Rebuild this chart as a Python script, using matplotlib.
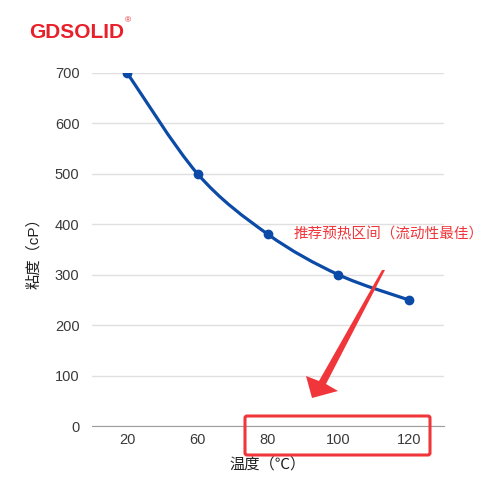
import matplotlib.pyplot as plt
from matplotlib.path import Path
from matplotlib.patches import PathPatch, Polygon, FancyBboxPatch

plt.rcParams['font.family'] = ['Liberation Sans', 'Noto Sans CJK SC', 'DejaVu Sans']

temps = ['20', '60', '80', '100', '120']
viscosity = [700, 500, 380, 300, 250]
y_ticks = [0, 100, 200, 300, 400, 500, 600, 700]

blue = '#0b4aa6'
red = '#f0363a'

fig = plt.figure(figsize=(5, 5), dpi=100)
ax = fig.add_axes([0.184, 0.148, 0.704, 0.706])

x = list(range(len(temps)))

# smooth curve through the points (catmull-rom style bezier)
verts = [(x[0], viscosity[0])]
codes = [Path.MOVETO]
k = 1 / 6
for i in range(len(x) - 1):
    x0, y0 = (x[i - 1], viscosity[i - 1]) if i > 0 else (x[i], viscosity[i])
    x1, y1 = x[i], viscosity[i]
    x2, y2 = x[i + 1], viscosity[i + 1]
    x3, y3 = (x[i + 2], viscosity[i + 2]) if i + 2 < len(x) else (x2, y2)
    verts += [(x1 + (x2 - x0) * k, y1 + (y2 - y0) * k),
              (x2 - (x3 - x1) * k, y2 - (y3 - y1) * k),
              (x2, y2)]
    codes += [Path.CURVE4] * 3
ax.add_patch(PathPatch(Path(verts, codes), facecolor='none', edgecolor=blue,
                       lw=2.3, zorder=3, capstyle='round'))
ax.plot(x, viscosity, 'o', color=blue, markersize=6, zorder=4)

ax.set_xlim(-0.5, len(temps) - 0.5)
ax.set_ylim(0, 700)
ax.set_xticks(x)
ax.set_xticklabels(temps)
ax.set_yticks(y_ticks)
ax.grid(axis='y', color='#e0e0e0', lw=1)
ax.set_axisbelow(True)
for s in ['top', 'right', 'left']:
    ax.spines[s].set_visible(False)
ax.spines['bottom'].set_color('#9e9e9e')
ax.tick_params(length=0, labelsize=10.5, colors='#3a3a3a', pad=5)
ax.tick_params(axis='y', pad=9)

ax.set_xlabel('温度（℃）', fontsize=11, color='#222222', labelpad=7)
ax.set_ylabel('粘度（cP）', fontsize=11, color='#222222', labelpad=10)

# logo
fig.text(0.058, 0.936, 'GDSOLID', fontsize=15, fontweight='bold', color='#e8202a',
         va='center', ha='left')
fig.text(0.256, 0.958, '®', fontsize=6, color='#e8202a', va='center', ha='center')

# annotation
fig.text(0.588, 0.532, '推荐预热区间（流动性最佳）', fontsize=10.5, color=red,
         va='center', ha='left')
arrow_px = [(385, 270), (382, 270), (319, 381), (306, 376), (312, 398),
            (338, 391), (326, 384)]
fig.patches.append(Polygon([(px / 500, 1 - py / 500) for px, py in arrow_px],
                           closed=True, transform=fig.transFigure,
                           facecolor=red, edgecolor='none'))
fig.patches.append(FancyBboxPatch((0.49, 0.09), 0.37, 0.078,
                                  boxstyle='round,pad=0,rounding_size=0.004',
                                  transform=fig.transFigure,
                                  fill=False, edgecolor=red, lw=2.2))

fig.savefig('out.png', dpi=100, facecolor='white')
